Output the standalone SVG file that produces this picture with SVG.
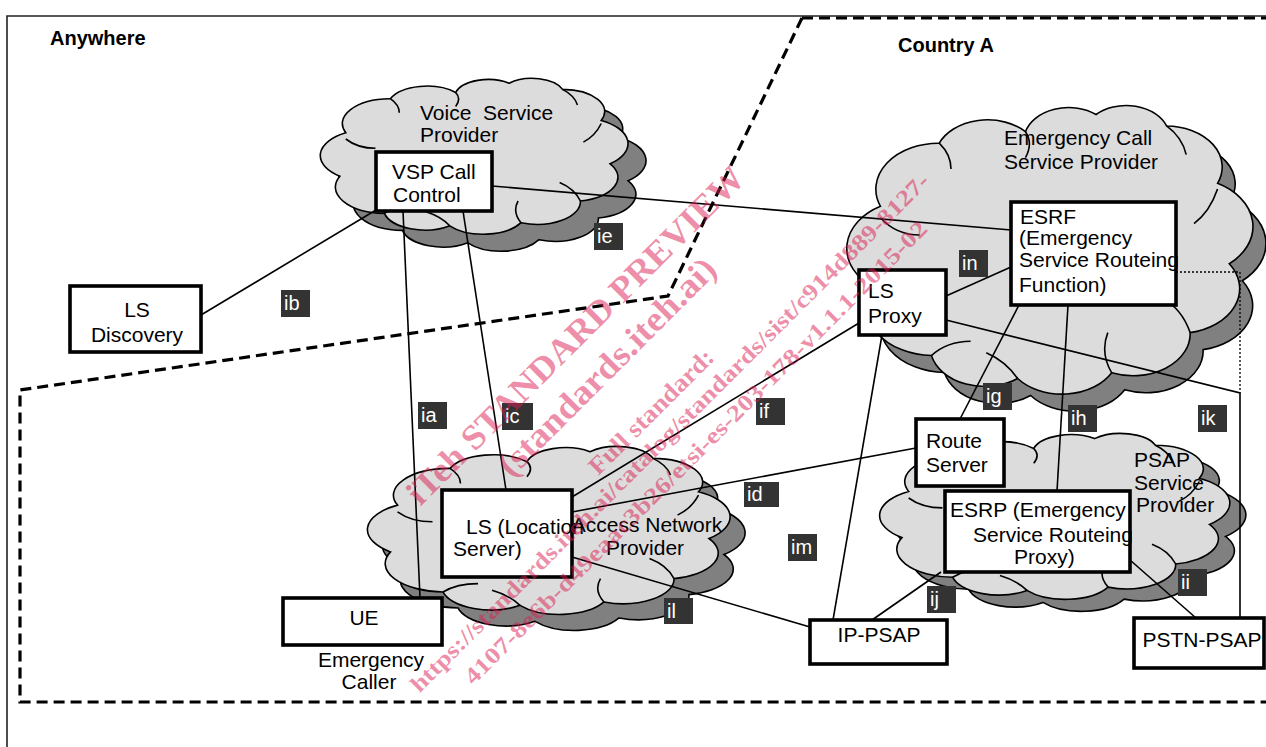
<svg xmlns="http://www.w3.org/2000/svg" xmlns:xlink="http://www.w3.org/1999/xlink" width="1266" height="747" viewBox="0 0 1266 747">
<style>
.frame{fill:none;stroke:#222;stroke-width:1.6}
.zone{fill:none;stroke:#000;stroke-width:3.2;stroke-dasharray:11 6}
.cl{fill:#dcdcdc;stroke:#000;stroke-width:1.6}
.sh{fill:#808080;stroke:#000;stroke-width:1.6}
.cr{fill:none;stroke:#000;stroke-width:1.6}
.box{fill:#fff;stroke:#000;stroke-width:3.6}
.ln{fill:none;stroke:#000;stroke-width:1.6}
.dot{fill:none;stroke:#000;stroke-width:1.3;stroke-dasharray:2 2}
.t{font-family:"Liberation Sans",Arial,sans-serif;font-size:21px;fill:#000}
.h{font-family:"Liberation Sans",Arial,sans-serif;font-size:20px;font-weight:bold;fill:#000}
.lb rect{fill:#333}
.lb text{font-family:"Liberation Sans",Arial,sans-serif;font-size:20px;fill:#fff}
.wm{font-family:"Liberation Serif","Times New Roman",serif;font-weight:bold;fill:#dc1f55;fill-opacity:0.52;text-anchor:middle}
</style>
<defs>
<path id="cloud" vector-effect="non-scaling-stroke" d="M5,64 A16.8,16.8 0 0 1 7,36 A16,16 0 0 1 22,14 A13.4,13.4 0 0 1 44,10 A11.4,11.4 0 0 1 62,4 A11,11 0 0 1 80,8 A14.3,14.3 0 0 1 93,28 A17,17 0 0 1 96,56 A15.6,15.6 0 0 1 86,80 A14.6,14.6 0 0 1 66,94 A14.5,14.5 0 0 1 42,96 A14,14 0 0 1 20,88 A17,17 0 0 1 5,64 Z"/>
<path id="crease" vector-effect="non-scaling-stroke" d="M7,40 Q11,46 17,46 M22,14 Q25,18 25,23 M44,10 Q46,14 44,19 M80,8 Q84,12 85,18 M93,30 Q91,38 87,42 M86,80 Q84,72 79,68 M66,94 Q63,87 65,80 M42,96 Q39,90 34,87 M20,88 Q24,83 30,83"/>
</defs>

<g id="frame">
<path class="frame" d="M7,747 V16 H1266"/>
<path class="zone" d="M802,18 H1266"/>
<path class="zone" d="M802,18 L668,296 L20,390 V702 H1266"/>
<text class="h" x="50" y="45">Anywhere</text>
<text class="h" x="898" y="52">Country A</text>
</g>

<g id="cloud-vsp">
<use xlink:href="#cloud" class="sh" transform="translate(343,94) scale(2.97,1.55)"/>
<use xlink:href="#cloud" class="cl" transform="translate(325,77) scale(2.97,1.55)"/>
<use xlink:href="#crease" class="cr" transform="translate(325,77) scale(2.97,1.55)"/>
<text class="t" x="420" y="120" xml:space="preserve">Voice  Service</text>
<text class="t" x="420" y="142">Provider</text>
</g>

<g id="cloud-ecsp">
<use xlink:href="#cloud" class="sh" transform="translate(866,120) scale(3.92,2.87)"/>
<use xlink:href="#cloud" class="cl" transform="translate(853,103) scale(3.92,2.87)"/>
<use xlink:href="#crease" class="cr" transform="translate(853,103) scale(3.92,2.87)"/>
<text class="t" x="1004" y="145">Emergency Call</text>
<text class="t" x="1004" y="169">Service Provider</text>
</g>

<g id="cloud-access">
<use xlink:href="#cloud" class="sh" transform="translate(388,461) scale(3.5,1.67)"/>
<use xlink:href="#cloud" class="cl" transform="translate(373,445) scale(3.5,1.67)"/>
<use xlink:href="#crease" class="cr" transform="translate(373,445) scale(3.5,1.67)"/>
</g>

<g id="cloud-psap">
<use xlink:href="#cloud" class="sh" transform="translate(901,444) scale(3.38,1.65)"/>
<use xlink:href="#cloud" class="cl" transform="translate(885,432) scale(3.38,1.65)"/>
<use xlink:href="#crease" class="cr" transform="translate(885,432) scale(3.38,1.65)"/>
<text class="t" x="1134" y="467">PSAP</text>
<text class="t" x="1134" y="490">Service</text>
<text class="t" x="1136" y="512">Provider</text>
</g>

<g id="connectors">
<line class="ln" x1="201" y1="315" x2="376" y2="210"/>
<line class="ln" x1="403" y1="211" x2="420" y2="598"/>
<line class="ln" x1="463" y1="211" x2="506" y2="490"/>
<line class="ln" x1="492" y1="186" x2="1011" y2="230"/>
<line class="ln" x1="946" y1="296" x2="1011" y2="267"/>
<line class="ln" x1="572" y1="497" x2="859" y2="323"/>
<line class="ln" x1="572" y1="512" x2="916" y2="448"/>
<line class="ln" x1="572" y1="557" x2="810" y2="627"/>
<line class="ln" x1="882" y1="335" x2="833" y2="620"/>
<line class="ln" x1="1019" y1="305" x2="960" y2="419"/>
<line class="ln" x1="1068" y1="305" x2="1057" y2="491"/>
<polyline class="ln" points="946,320 1240,393 1240,618"/>
<polyline class="dot" points="1176,272 1240,272 1240,393"/>
<line class="ln" x1="941" y1="572" x2="872" y2="620"/>
<line class="ln" x1="1130" y1="560" x2="1196" y2="618"/>
</g>

<g id="vsp-call-control">
<rect class="box" x="376" y="152" width="116" height="59"/>
<text class="t" x="392" y="179">VSP Call</text>
<text class="t" x="393" y="202">Control</text>
</g>
<g id="ls-discovery">
<rect class="box" x="70" y="286" width="131" height="66"/>
<text class="t" x="137" y="317" text-anchor="middle">LS</text>
<text class="t" x="137" y="342" text-anchor="middle">Discovery</text>
</g>
<g id="esrf">
<rect class="box" x="1011" y="202" width="165" height="103"/>
<text class="t" x="1020" y="224">ESRF</text>
<text class="t" x="1019" y="245">(Emergency</text>
<text class="t" x="1019" y="267">Service Routeing</text>
<text class="t" x="1019" y="292">Function)</text>
</g>
<g id="ls-proxy">
<rect class="box" x="859" y="270" width="87" height="65"/>
<text class="t" x="868" y="298">LS</text>
<text class="t" x="868" y="323">Proxy</text>
</g>
<g id="route-server">
<rect class="box" x="916" y="419" width="88" height="67"/>
<text class="t" x="926" y="448">Route</text>
<text class="t" x="926" y="472">Server</text>
</g>
<g id="esrp">
<rect class="box" x="945" y="491" width="185" height="81"/>
<text class="t" x="950" y="517">ESRP (Emergency</text>
<text class="t" x="973" y="542">Service Routeing</text>
<text class="t" x="1014" y="564">Proxy)</text>
</g>
<g id="ls-location-server">
<rect class="box" x="442" y="490" width="130" height="87"/>
<text class="t" x="466" y="534">LS (Location</text>
<text class="t" x="453" y="556">Server)</text>
</g>
<g id="access-network-label">
<text class="t" x="647" y="532" text-anchor="middle">Access Network</text>
<text class="t" x="645" y="555" text-anchor="middle">Provider</text>
</g>
<g id="ue">
<rect class="box" x="283" y="598" width="159" height="47"/>
<text class="t" x="364" y="625" text-anchor="middle">UE</text>
<text class="t" x="371" y="667" text-anchor="middle">Emergency</text>
<text class="t" x="369" y="689" text-anchor="middle">Caller</text>
</g>
<g id="ip-psap">
<rect class="box" x="810" y="620" width="137" height="44"/>
<text class="t" x="879" y="642" text-anchor="middle">IP-PSAP</text>
</g>
<g id="pstn-psap">
<rect class="box" x="1134" y="618" width="130" height="50"/>
<text class="t" x="1202" y="647" text-anchor="middle">PSTN-PSAP</text>
</g>

<g id="labels" class="lb">
<rect x="281" y="290" width="29" height="27"/><text x="284" y="310">ib</text>
<rect x="594" y="223" width="29" height="27"/><text x="597" y="243">ie</text>
<rect x="418" y="402" width="29" height="27"/><text x="421" y="422">ia</text>
<rect x="502" y="403" width="31" height="27"/><text x="505" y="423">ic</text>
<rect x="959" y="250" width="29" height="27"/><text x="962" y="270">in</text>
<rect x="756" y="398" width="29" height="27"/><text x="759" y="418">if</text>
<rect x="983" y="383" width="29" height="27"/><text x="986" y="403">ig</text>
<rect x="1068" y="405" width="29" height="27"/><text x="1071" y="425">ih</text>
<rect x="1198" y="405" width="29" height="27"/><text x="1201" y="425">ik</text>
<rect x="744" y="482" width="35" height="25"/><text x="747" y="501">id</text>
<rect x="788" y="534" width="29" height="27"/><text x="791" y="554">im</text>
<rect x="664" y="598" width="29" height="26"/><text x="667" y="618">il</text>
<rect x="927" y="586" width="29" height="27"/><text x="930" y="606">ij</text>
<rect x="1178" y="569" width="29" height="27"/><text x="1181" y="589">ii</text>
</g>

<g id="watermark">
<text class="wm" x="583.5" y="343.5" font-size="35" textLength="462" lengthAdjust="spacingAndGlyphs" transform="rotate(-45 583.5 343.5)">iTeh STANDARD PREVIEW</text>
<text class="wm" x="615" y="375" font-size="35" textLength="293" lengthAdjust="spacingAndGlyphs" transform="rotate(-45 615 375)">(standards.iteh.ai)</text>
<text class="wm" x="657" y="417.5" font-size="25" textLength="166" lengthAdjust="spacingAndGlyphs" transform="rotate(-45 657 417.5)">Full standard:</text>
<text class="wm" x="675" y="438" font-size="23" textLength="723" lengthAdjust="spacingAndGlyphs" transform="rotate(-45 675 438)">https://standards.iteh.ai/catalog/standards/sist/c914d889-8127-</text>
<text class="wm" x="701" y="458" font-size="23" textLength="644" lengthAdjust="spacingAndGlyphs" transform="rotate(-45 701 458)">4107-8e6b-d49eaac3b26/etsi-es-203-178-v1.1.1-2015-02</text>
</g>
</svg>
